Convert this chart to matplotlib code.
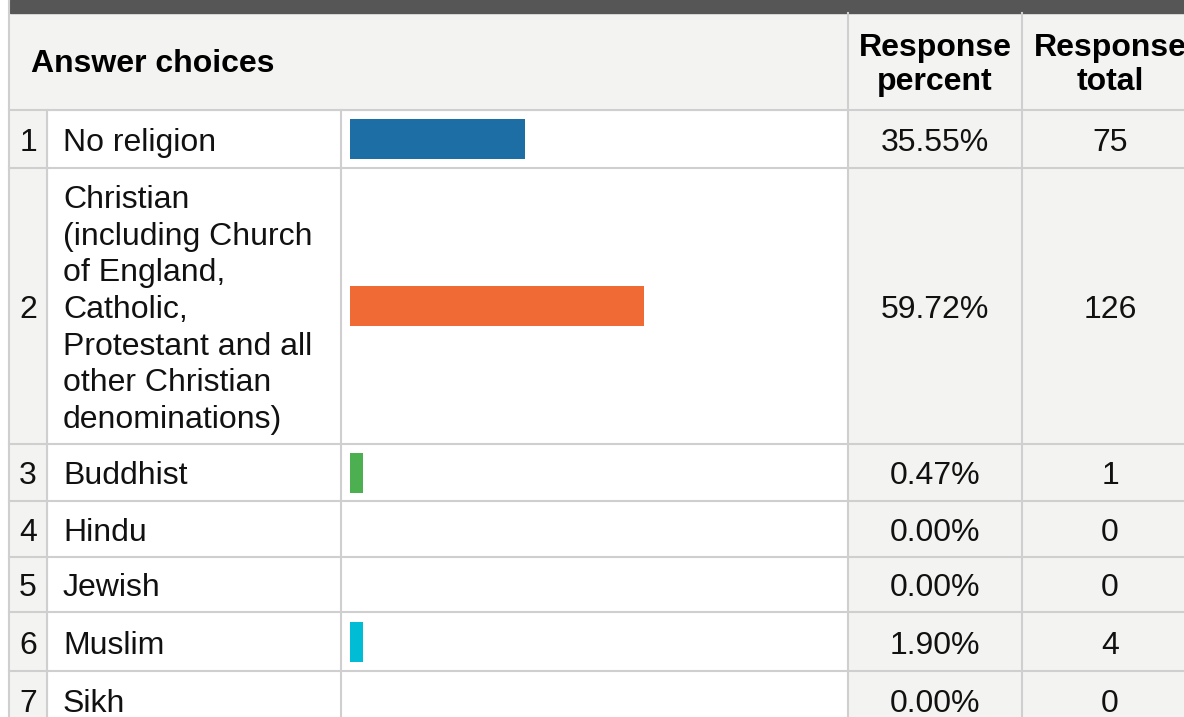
import numpy as np
import matplotlib.pyplot as plt
from matplotlib.patches import Rectangle

plt.rcParams['font.family'] = ['Liberation Sans', 'DejaVu Sans']

# Survey data
choices = ["No religion",
           "Christian\n(including Church\nof England,\nCatholic,\nProtestant and all\nother Christian\ndenominations)",
           "Buddhist", "Hindu", "Jewish", "Muslim", "Sikh"]
percents = [35.55, 59.72, 0.47, 0.00, 0.00, 1.90, 0.00]
totals = [75, 126, 1, 0, 0, 4, 0]
bar_colors = ['#1c6ea4', '#f06a35', '#4caf50', '#9e9e9e', '#9e9e9e', '#00bcd4', '#9e9e9e']

# Layout in pixel coordinates
W, H = 1184, 717
row_edges = [110, 168, 444, 501, 557, 612, 671, 729]
col_x = [9, 47, 341, 848, 1022, 1198]
bar_left = 350
bar_scale = 4.92  # px per percent
min_bar = 13
bar_h = 40
grey_bg = '#f3f3f2'
line_c = '#cfcfcf'
fs = 23

fig = plt.figure(figsize=(W / 100, H / 100), dpi=100)
ax = fig.add_axes([0, 0, 1, 1])
ax.set_xlim(0, W)
ax.set_ylim(H, 0)
ax.axis('off')

# header band and header row
ax.add_patch(Rectangle((10, 0), W, 13, color='#555655', zorder=1))
ax.add_patch(Rectangle((col_x[0], 13), W, row_edges[0] - 13, color=grey_bg, zorder=0))

# body backgrounds
for i in range(len(choices)):
    y0, y1 = row_edges[i], row_edges[i + 1]
    ax.add_patch(Rectangle((col_x[0], y0), col_x[1] - col_x[0], y1 - y0, color=grey_bg, zorder=0))
    ax.add_patch(Rectangle((col_x[3], y0), W - col_x[3], y1 - y0, color=grey_bg, zorder=0))

# grid lines
for y in row_edges[:-1]:
    ax.plot([col_x[0], W], [y, y], color=line_c, lw=1.5, zorder=2)
ax.plot([col_x[0], col_x[0]], [0, H], color=line_c, lw=1.5, zorder=2)
for x in col_x[1:3]:
    ax.plot([x, x], [row_edges[0], H], color=line_c, lw=1.5, zorder=2)
for x in col_x[3:5]:
    ax.plot([x, x], [13, H], color=line_c, lw=1.5, zorder=2)

# headers
ax.text(31, 64, "Answer choices", fontsize=fs, fontweight='bold', va='center', ha='left')
ax.text((col_x[3] + col_x[4]) / 2, 65, "Response\npercent", fontsize=fs, fontweight='bold',
        va='center', ha='center', linespacing=1.2)
ax.text((col_x[4] + col_x[5]) / 2, 65, "Response\ntotal", fontsize=fs, fontweight='bold',
        va='center', ha='center', linespacing=1.2)

# rows
centers = [(row_edges[i] + row_edges[i + 1]) / 2 for i in range(len(choices))]
centers[-1] = 700
for i, (lab, p, t) in enumerate(zip(choices, percents, totals)):
    yc = centers[i] + 4
    ax.text((col_x[0] + col_x[1]) / 2, yc, str(i + 1), fontsize=fs, va='center', ha='center', color='#111111')
    ax.text(63, yc, lab, fontsize=fs, va='center', ha='left', linespacing=1.29, color='#111111')
    ax.text((col_x[3] + col_x[4]) / 2, yc, f"{p:.2f}%", fontsize=fs, va='center', ha='center', color='#111111')
    ax.text((col_x[4] + col_x[5]) / 2, yc, str(t), fontsize=fs, va='center', ha='center', color='#111111')

widths = [max(p * bar_scale, min_bar) if p > 0 else 0 for p in percents]
ax.barh(centers, widths, left=bar_left, height=bar_h, color=bar_colors, zorder=3)

fig.savefig('out.png', dpi=100)
